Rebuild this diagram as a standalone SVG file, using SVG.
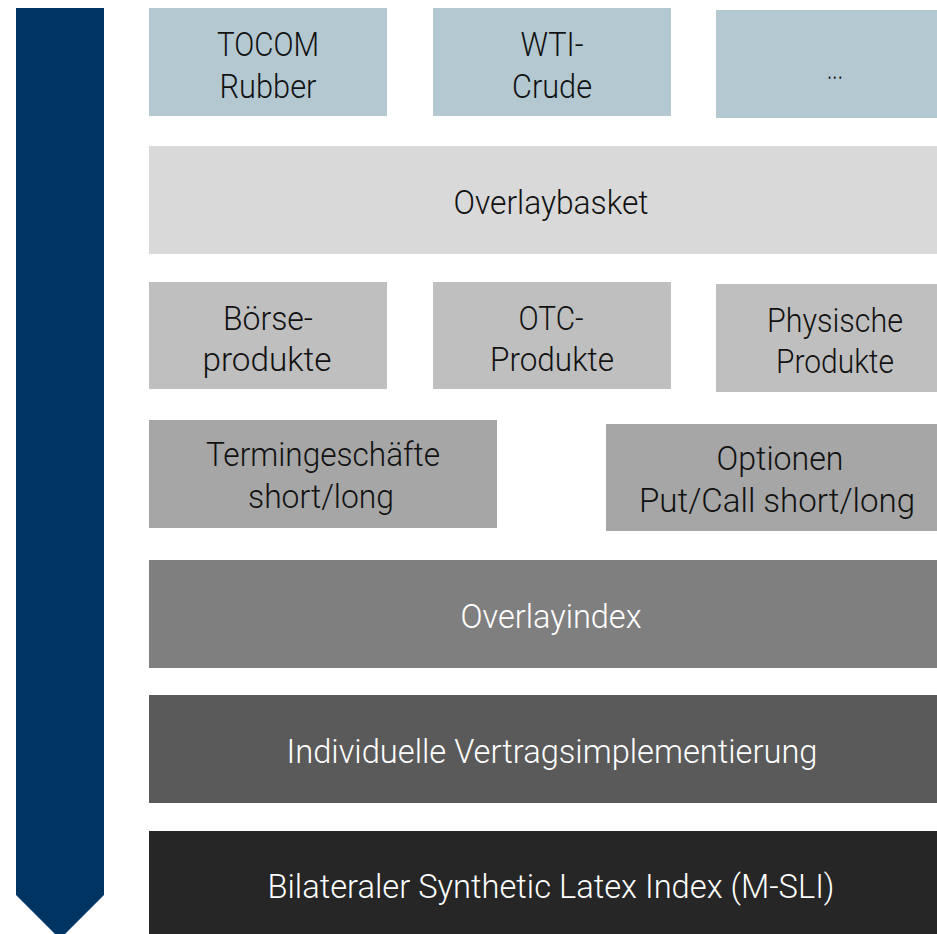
<svg xmlns="http://www.w3.org/2000/svg" width="937" height="934" viewBox="0 0 937 934">
<style>
text{font-family:"Roboto","Open Sans","Liberation Sans",sans-serif;font-weight:300;font-size:33px;text-anchor:middle}
.dk{fill:#111111}
.wt{fill:#ffffff}
.c1{fill:#B4C8D1}
.c2{fill:#D9D9D9}
.c3{fill:#BFBFBF}
.c4{fill:#A6A6A6}
.c5{fill:#7F7F7F}
.c6{fill:#5A5A5A}
.c7{fill:#262626}
</style>
<rect width="937" height="934" fill="#ffffff"/>
<g id="flow-arrow">
<polygon points="16,8 104,8 104,895 60,939 16,895" fill="#003463"/>
</g>
<g id="tocom">
<rect class="c1" x="149" y="8" width="238" height="108"/>
<text class="dk" x="268" y="56" textLength="102" lengthAdjust="spacingAndGlyphs">TOCOM</text>
<text class="dk" x="268" y="98" textLength="97" lengthAdjust="spacingAndGlyphs">Rubber</text>
</g>
<g id="wti">
<rect class="c1" x="433" y="8" width="238" height="108"/>
<text class="dk" x="552" y="56" textLength="63" lengthAdjust="spacingAndGlyphs">WTI-</text>
<text class="dk" x="552" y="98" textLength="80" lengthAdjust="spacingAndGlyphs">Crude</text>
</g>
<g id="more">
<rect class="c1" x="716" y="10" width="238" height="108"/>
<text class="dk" x="835" y="79" textLength="16" lengthAdjust="spacingAndGlyphs">...</text>
</g>
<g id="overlaybasket">
<rect class="c2" x="149" y="146" width="803" height="108"/>
<text class="dk" x="551" y="214" textLength="195" lengthAdjust="spacingAndGlyphs">Overlaybasket</text>
</g>
<g id="boerse">
<rect class="c3" x="149" y="282" width="238" height="107"/>
<text class="dk" x="268" y="330" textLength="90" lengthAdjust="spacingAndGlyphs">Börse-</text>
<text class="dk" x="267" y="371" textLength="129" lengthAdjust="spacingAndGlyphs">produkte</text>
</g>
<g id="otc">
<rect class="c3" x="433" y="282" width="238" height="107"/>
<text class="dk" x="551" y="330" textLength="65" lengthAdjust="spacingAndGlyphs">OTC-</text>
<text class="dk" x="552" y="371" textLength="124" lengthAdjust="spacingAndGlyphs">Produkte</text>
</g>
<g id="physisch">
<rect class="c3" x="716" y="284" width="238" height="108"/>
<text class="dk" x="835" y="332" textLength="136" lengthAdjust="spacingAndGlyphs">Physische</text>
<text class="dk" x="835" y="373" textLength="118" lengthAdjust="spacingAndGlyphs">Produkte</text>
</g>
<g id="termingeschaefte">
<rect class="c4" x="149" y="420" width="348" height="108"/>
<text class="dk" x="323" y="466" textLength="234" lengthAdjust="spacingAndGlyphs">Termingeschäfte</text>
<text class="dk" x="321" y="508" textLength="146" lengthAdjust="spacingAndGlyphs">short/long</text>
</g>
<g id="optionen">
<rect class="c4" x="606" y="424" width="350" height="107"/>
<text class="dk" x="780" y="470" textLength="127" lengthAdjust="spacingAndGlyphs">Optionen</text>
<text class="dk" x="777" y="512" textLength="276" lengthAdjust="spacingAndGlyphs">Put/Call short/long</text>
</g>
<g id="overlayindex">
<rect class="c5" x="149" y="560" width="803" height="108"/>
<text class="wt" x="551" y="628" textLength="181" lengthAdjust="spacingAndGlyphs">Overlayindex</text>
</g>
<g id="vertragsimplementierung">
<rect class="c6" x="149" y="695" width="803" height="108"/>
<text class="wt" x="552" y="763" textLength="531" lengthAdjust="spacingAndGlyphs">Individuelle Vertragsimplementierung</text>
</g>
<g id="msli">
<rect class="c7" x="149" y="831" width="803" height="108"/>
<text class="wt" x="551" y="898" textLength="567" lengthAdjust="spacingAndGlyphs">Bilateraler Synthetic Latex Index (M-SLI)</text>
</g>
</svg>
